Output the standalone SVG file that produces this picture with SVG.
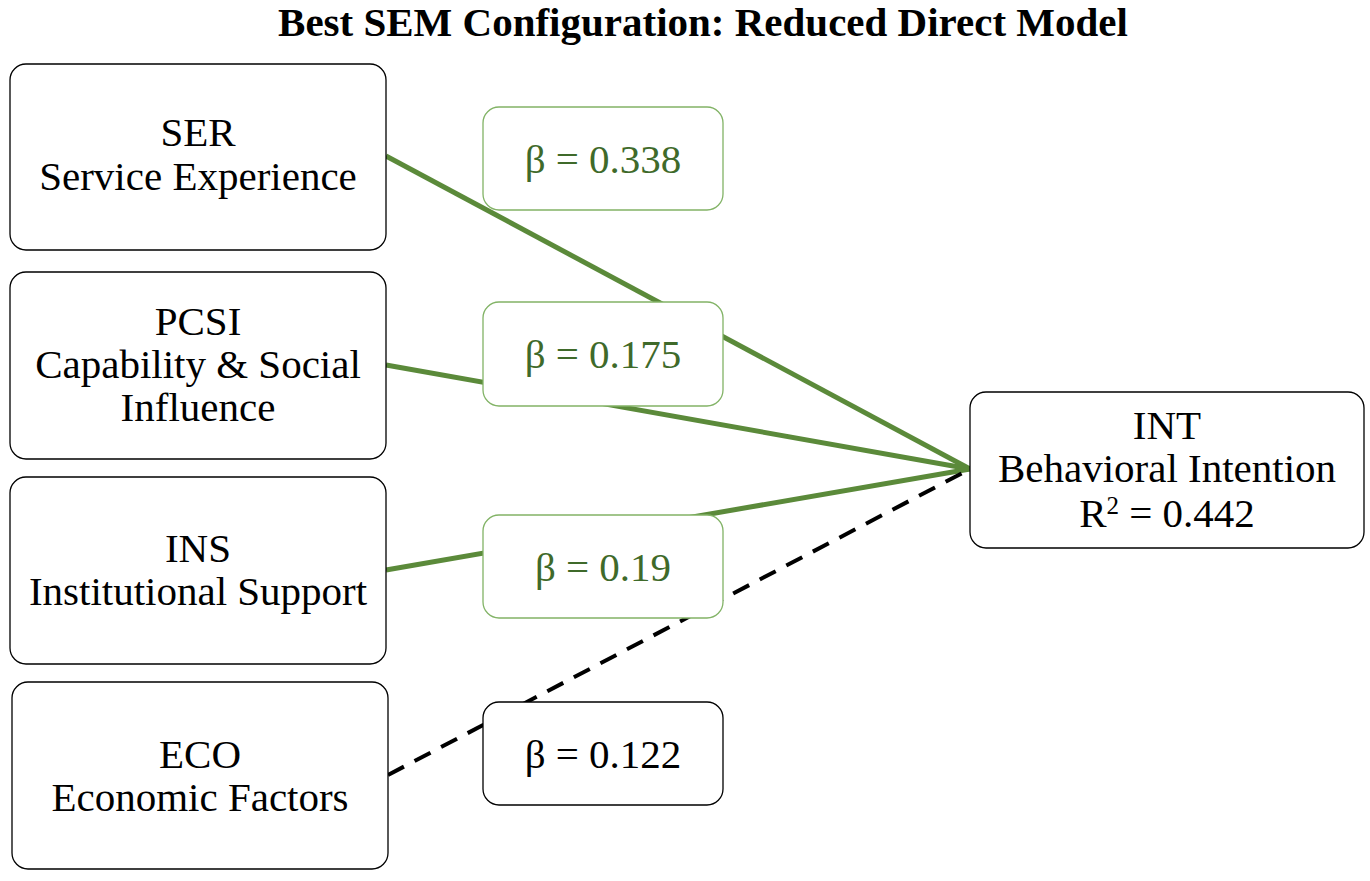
<svg xmlns="http://www.w3.org/2000/svg" width="1370" height="881" viewBox="0 0 1370 881">
<style>
.node{fill:#fff;stroke:#000;stroke-width:1.3}
.lab{fill:#fff;stroke:#82b366;stroke-width:1.3}
.labk{fill:#fff;stroke:#000;stroke-width:1.3}
.t{font-family:"Liberation Serif","Times New Roman",serif;font-size:41px;text-anchor:middle;fill:#000}
.tg{font-family:"Liberation Serif","Times New Roman",serif;font-size:41px;text-anchor:middle;fill:#3f6a2a}
.title{font-family:"Liberation Serif","Times New Roman",serif;font-size:41px;font-weight:bold;text-anchor:middle;fill:#000}
.e{fill:none;stroke:#5b8a3a;stroke-width:5}
.ed{fill:none;stroke:#000;stroke-width:4;stroke-dasharray:18,12}
</style>
<rect width="1370" height="881" fill="#fff"/>
<text class="title" x="703" y="36">Best SEM Configuration: Reduced Direct Model</text>
<g id="connectors">
<line class="e" x1="386" y1="156" x2="970" y2="469"/>
<line class="e" x1="386" y1="365" x2="970" y2="469"/>
<line class="e" x1="386" y1="570" x2="970" y2="469"/>
<line class="ed" x1="388" y1="775" x2="970" y2="469"/>
</g>
<g id="SER">
<rect class="node" x="10" y="64" width="376" height="186" rx="16"/>
<text class="t" x="198" y="146">SER</text>
<text class="t" x="198" y="190">Service Experience</text>
</g>
<g id="PCSI">
<rect class="node" x="10" y="272" width="376" height="187" rx="16"/>
<text class="t" x="198" y="335">PCSI</text>
<text class="t" x="198" y="378">Capability &amp; Social</text>
<text class="t" x="198" y="421">Influence</text>
</g>
<g id="INS">
<rect class="node" x="10" y="477" width="376" height="187" rx="16"/>
<text class="t" x="198" y="562">INS</text>
<text class="t" x="198" y="605">Institutional Support</text>
</g>
<g id="ECO">
<rect class="node" x="12" y="682" width="376" height="187" rx="16"/>
<text class="t" x="200" y="768">ECO</text>
<text class="t" x="200" y="811">Economic Factors</text>
</g>
<g id="INT">
<rect class="node" x="970" y="392" width="394" height="156" rx="16"/>
<text class="t" x="1167" y="439">INT</text>
<text class="t" x="1167" y="482">Behavioral Intention</text>
<text class="t" x="1167" y="527">R<tspan dy="-13" font-size="25">2</tspan><tspan dy="13"> = 0.442</tspan></text>
</g>
<g id="label-SER">
<rect class="lab" x="483" y="107" width="240" height="103" rx="16"/>
<text class="tg" x="603" y="173">β = 0.338</text>
</g>
<g id="label-PCSI">
<rect class="lab" x="483" y="302" width="240" height="104" rx="16"/>
<text class="tg" x="603" y="368">β = 0.175</text>
</g>
<g id="label-INS">
<rect class="lab" x="483" y="515" width="240" height="103" rx="16"/>
<text class="tg" x="603" y="581">β = 0.19</text>
</g>
<g id="label-ECO">
<rect class="labk" x="483" y="702" width="240" height="103" rx="16"/>
<text class="t" x="603" y="768">β = 0.122</text>
</g>
</svg>
